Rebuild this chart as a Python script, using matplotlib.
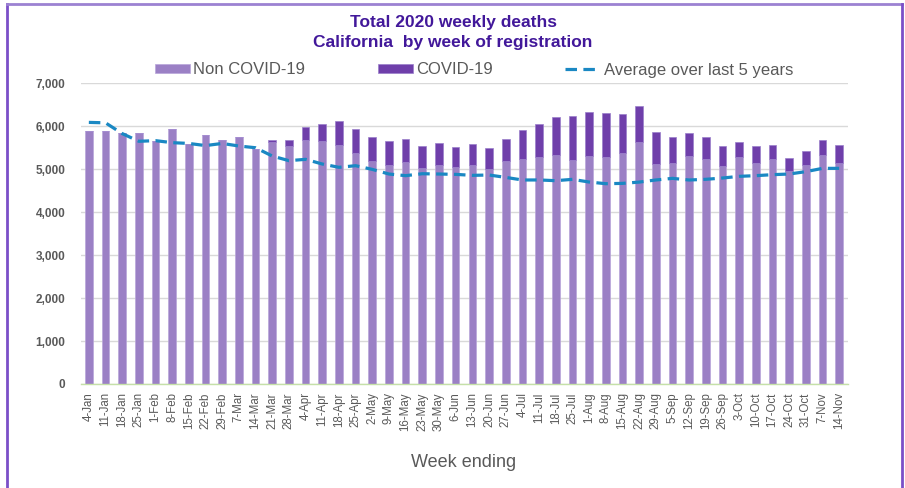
import matplotlib.pyplot as plt
from matplotlib.lines import Line2D
from matplotlib.ticker import FuncFormatter

plt.rcParams['font.family'] = ['Liberation Sans', 'DejaVu Sans']

weeks = ['4-Jan', '11-Jan', '18-Jan', '25-Jan', '1-Feb', '8-Feb', '15-Feb', '22-Feb', '29-Feb',
         '7-Mar', '14-Mar', '21-Mar', '28-Mar', '4-Apr', '11-Apr', '18-Apr', '25-Apr',
         '2-May', '9-May', '16-May', '23-May', '30-May', '6-Jun', '13-Jun', '20-Jun', '27-Jun',
         '4-Jul', '11-Jul', '18-Jul', '25-Jul', '1-Aug', '8-Aug', '15-Aug', '22-Aug', '29-Aug',
         '5-Sep', '12-Sep', '19-Sep', '26-Sep', '3-Oct', '10-Oct', '17-Oct', '24-Oct', '31-Oct',
         '7-Nov', '14-Nov']

# weekly totals (non covid + covid)
total = [5890, 5890, 5835, 5840, 5665, 5928, 5594, 5796, 5680,
         5742, 5462, 5680, 5680, 5982, 6060, 6130, 5943,
         5742, 5665, 5703, 5540, 5602, 5517, 5579, 5501, 5703,
         5913, 6052, 6223, 6246, 6331, 6300, 6277, 6463, 5866,
         5757, 5850, 5742, 5540, 5633, 5540, 5556, 5261, 5424,
         5680, 5571]

non_covid = [5890, 5890, 5835, 5840, 5665, 5928, 5594, 5796, 5680,
             5742, 5462, 5625, 5540, 5680, 5649, 5563, 5385,
             5191, 5106, 5168, 5028, 5106, 5051, 5106, 5012, 5183,
             5237, 5276, 5331, 5214, 5307, 5284, 5385, 5633, 5121,
             5144, 5307, 5237, 5075, 5276, 5144, 5237, 4966, 5090,
             5331, 5144]

avg_5yr = [6090, 6080, 5830, 5650, 5665, 5618, 5600, 5550, 5600,
           5540, 5500, 5307, 5199, 5230, 5121, 5044, 5082,
           4996, 4888, 4850, 4895, 4888, 4880, 4857, 4865, 4810,
           4749, 4750, 4733, 4764, 4702, 4663, 4670, 4700, 4749,
           4787, 4749, 4765, 4795, 4834, 4850, 4873, 4888, 4943,
           5020, 5020]

covid = [t - n for t, n in zip(total, non_covid)]

c_non = '#9B80C5'
c_cov = '#6F3FAA'
c_avg = '#1A88C3'
grey = '#595959'

fig = plt.figure(figsize=(9.05, 4.88), dpi=100)
ax = fig.add_axes([80.5 / 905, 1 - 384 / 488, 767 / 905, (384 - 83.3) / 488])

x = range(len(weeks))
b1 = ax.bar(x, non_covid, width=0.46, color=c_non, edgecolor='#B9A6DA', linewidth=0.5, zorder=2)
b2 = ax.bar(x, covid, bottom=non_covid, width=0.46, color=c_cov, edgecolor='#9A7FCB', linewidth=0.5, zorder=2)
ln, = ax.plot(x, avg_5yr, color=c_avg, lw=2.3, linestyle=(0, (3.6, 2.0)), zorder=3)

ax.set_xlim(-0.5, len(weeks) - 0.5)
ax.set_ylim(0, 7000)
ax.set_yticks(range(0, 7001, 1000))
ax.yaxis.set_major_formatter(FuncFormatter(lambda v, p: f'{int(v):,}'))
ax.grid(axis='y', color='#D9D9D9', lw=1, zorder=0)
ax.set_axisbelow(True)

for s in ['top', 'right', 'left']:
    ax.spines[s].set_visible(False)
ax.spines['bottom'].set_color('#C5E0A8')
ax.spines['bottom'].set_linewidth(1)

ax.set_xticks(list(x))
ax.set_xticklabels(weeks, rotation=90, fontsize=8.3, color=grey)
ax.tick_params(axis='x', length=0, pad=6)
ax.tick_params(axis='y', length=0, pad=11, labelsize=8.5, labelcolor=grey)
for t in ax.get_yticklabels():
    t.set_fontweight('bold')

ax.set_xlabel('Week ending', fontsize=13, color=grey, labelpad=17)

fig.text(453 / 905, 1 - 22 / 488, 'Total 2020 weekly deaths', ha='center', va='center',
         fontsize=12.5, fontweight='bold', color='#42189A')
fig.text(453 / 905, 1 - 43 / 488, 'California  by week of registration', ha='center', va='center',
         fontsize=12.5, fontweight='bold', color='#42189A')

fig.legend([b1, b2, ln], ['Non COVID-19', 'COVID-19', 'Average over last 5 years'],
           loc='center', bbox_to_anchor=(474 / 905, 1 - 70 / 488), ncol=3, frameon=False,
           fontsize=12, handlelength=2.1, handleheight=0.45, handletextpad=0.2,
           columnspacing=4.35, labelcolor=grey)

# purple frame on left, top and right
frame = '#7B4FC8'
fig.add_artist(Line2D([6.5 / 905, 6.5 / 905], [0, 1 - 4 / 488], color=frame, lw=2, transform=fig.transFigure))
fig.add_artist(Line2D([6.5 / 905, 902 / 905], [1 - 4 / 488, 1 - 4 / 488], color='#9C82D2', lw=2, transform=fig.transFigure))
fig.add_artist(Line2D([902 / 905, 902 / 905], [0, 1 - 4 / 488], color=frame, lw=2, transform=fig.transFigure))

fig.savefig('out.png', dpi=100)
